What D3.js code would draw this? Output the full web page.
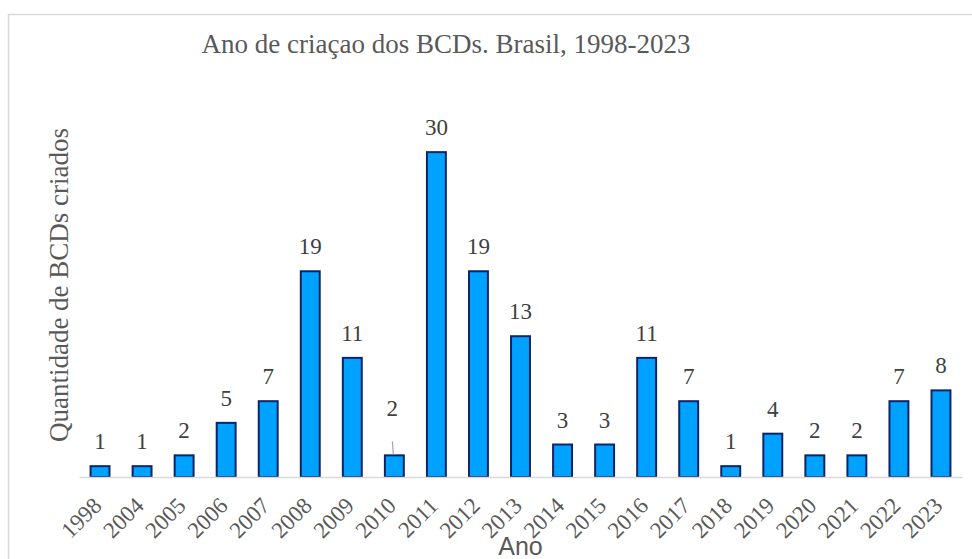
<!DOCTYPE html>
<html>
<head>
<meta charset="utf-8">
<script src="https://cdn.jsdelivr.net/npm/d3@7"></script>
<style>
	body { margin: 0; background: #fff; }
	svg { display: block; }
</style>
</head>
<body>
<script>
const years = ["1998", "2004", "2005", "2006", "2007", "2008", "2009", "2010", "2011", "2012", "2013",
	"2014", "2015", "2016", "2017", "2018", "2019", "2020", "2021", "2022", "2023"];
const counts = [1, 1, 2, 5, 7, 19, 11, 2, 30, 19, 13, 3, 3, 11, 7, 1, 4, 2, 2, 7, 8];

const config = {
	width: 972,
	height: 559,
	plotLeft: 79,
	plotRight: 962,
	baseline: 477,
	top: 98,
	serif: "Liberation Serif",
	sans: "Liberation Sans",
	textColor: "#595959",
	labelColor: "#404040",
	barColor: "#00a2ff",
	barStroke: "#0b2468",
	lineColor: "#d9d9d9"
};

const svg = d3
	.select("body")
	.append("svg")
	.attr("width", config.width)
	.attr("height", config.height);

// chart frame (runs off the right and bottom edges)
svg.append("rect")
	.attr("x", 8.5)
	.attr("y", 14.5)
	.attr("width", 1000)
	.attr("height", 600)
	.attr("fill", "none")
	.attr("stroke", config.lineColor)
	.attr("stroke-width", 1.5);

const x = d3.scaleBand()
	.domain(years)
	.range([config.plotLeft, config.plotRight])
	.paddingInner(0.55)
	.paddingOuter(0.275);

const y = d3.scaleLinear()
	.domain([0, 35])
	.range([config.baseline, config.top]);

svg.append("text")
	.attr("x", 446)
	.attr("y", 53)
	.attr("text-anchor", "middle")
	.attr("font-family", config.serif)
	.attr("font-size", 27)
	.attr("fill", config.textColor)
	.text("Ano de criaçao dos BCDs. Brasil, 1998-2023");

svg.append("text")
	.attr("text-anchor", "middle")
	.attr("transform", "translate(68, 285) rotate(-90)")
	.attr("font-family", config.serif)
	.attr("font-size", 27)
	.attr("fill", config.textColor)
	.text("Quantidade de BCDs criados");

const data = years.map((year, i) => ({ year, value: counts[i] }));

svg.selectAll(".bar")
	.data(data)
	.join("rect")
	.attr("class", "bar")
	.attr("x", d => x(d.year))
	.attr("y", d => y(d.value))
	.attr("width", x.bandwidth())
	.attr("height", d => y(0) - y(d.value))
	.attr("fill", config.barColor)
	.attr("stroke", config.barStroke)
	.attr("stroke-width", 2);

// x axis line and rotated tick labels
const xAxis = svg.append("g")
	.attr("transform", `translate(0, ${config.baseline})`)
	.call(d3.axisBottom(x).tickSize(0).tickPadding(0))
	.attr("font-family", config.serif)
	.attr("font-size", 23);
xAxis.select(".domain").attr("stroke", config.lineColor).attr("stroke-width", 1.5);
xAxis.selectAll(".tick text")
	.attr("dy", null)
	.attr("y", null)
	.attr("text-anchor", "end")
	.attr("transform", "translate(3, 30) rotate(-45)")
	.attr("fill", config.textColor);

// the 2010 label was pulled up in the original, with a leader line
const lifted = { "2010": 22 };

svg.selectAll(".value-label")
	.data(data)
	.join("text")
	.attr("class", "value-label")
	.attr("text-anchor", "middle")
	.attr("x", d => x(d.year) + x.bandwidth() / 2 - (lifted[d.year] ? 2 : 0))
	.attr("y", d => y(d.value) - 17 - (lifted[d.year] || 0))
	.attr("font-family", config.serif)
	.attr("font-size", 23)
	.attr("fill", config.labelColor)
	.text(d => d.value);

data.filter(d => lifted[d.year]).forEach(d => {
	const cx = x(d.year) + x.bandwidth() / 2;
	svg.append("line")
		.attr("x1", cx - 2)
		.attr("y1", y(d.value) - 14)
		.attr("x2", cx - 1)
		.attr("y2", y(d.value) - 1)
		.attr("stroke", "#a6a6a6")
		.attr("stroke-width", 1.2);
});

svg.append("text")
	.attr("x", (config.plotLeft + config.plotRight) / 2)
	.attr("y", 555)
	.attr("text-anchor", "middle")
	.attr("font-family", config.sans)
	.attr("font-size", 25)
	.attr("fill", config.textColor)
	.text("Ano");
</script>
</body>
</html>
